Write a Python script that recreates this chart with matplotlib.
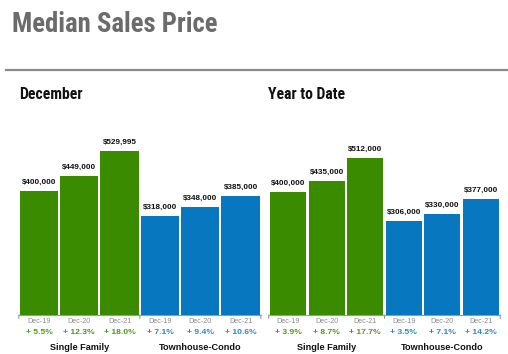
import matplotlib
matplotlib.use("Agg")
import matplotlib.pyplot as plt

narrow = ["Roboto Condensed", "Archivo Narrow", "Liberation Sans"]
sans = "Liberation Sans"

# ---- data ----
periods = ["Dec-19", "Dec-20", "Dec-21"]
groups = ["Single Family", "Townhouse-Condo"]
dec_single = [400000, 449000, 529995]
dec_condo = [318000, 348000, 385000]
dec_single_pct = ["+ 5.5%", "+ 12.3%", "+ 18.0%"]
dec_condo_pct = ["+ 7.1%", "+ 9.4%", "+ 10.6%"]
ytd_single = [400000, 435000, 512000]
ytd_condo = [306000, 330000, 377000]
ytd_single_pct = ["+ 3.9%", "+ 8.7%", "+ 17.7%"]
ytd_condo_pct = ["+ 3.5%", "+ 7.1%", "+ 14.2%"]

GREEN = "#3a8b00"
BLUE = "#0778bf"
GREEN_T = "#4d9a1c"
BLUE_T = "#238ad0"

W, H = 508, 354
fig = plt.figure(figsize=(W / 100, H / 100), dpi=100)

fig.text(12 / W, 1 - 32 / H, "Median Sales Price", fontsize=19.3, fontweight="bold",
         color="#6b6b6b", family=narrow, va="baseline", ha="left")
fig.add_artist(plt.Line2D([6 / W, 1.0], [1 - 69.5 / H] * 2, color="#8a8a8a", lw=1.6))
fig.text(19 / W, 1 - 99 / H, "December", fontsize=11.3, fontweight="bold",
         color="#111111", family=narrow, va="baseline", ha="left")
fig.text(268 / W, 1 - 99 / H, "Year to Date", fontsize=11.3, fontweight="bold",
         color="#111111", family=narrow, va="baseline", ha="left")


def panel(left_px, width_px, scale, bw, single, condo, spct, cpct):
    ymax = 600000
    h_px = ymax / 1000 * scale
    base = 315
    ax = fig.add_axes([left_px / W, (H - base) / H, width_px / W, h_px / H])
    ax.set_xlim(-0.5, 5.5)
    ax.set_ylim(0, ymax)
    ax.axis("off")
    vals = single + condo
    cols = [GREEN] * 3 + [BLUE] * 3
    pcts = spct + cpct
    pcols = [GREEN_T] * 3 + [BLUE_T] * 3
    labels = periods + periods
    xs = list(range(6))
    ax.plot([-0.5, 5.5], [0, 0], color="#9a9a9a", lw=0.8, clip_on=False, zorder=1)
    for tx in (-0.5, 2.5, 5.5):
        ax.annotate("", xy=(tx, 0), xytext=(0, -2.5), textcoords="offset points",
                    arrowprops=dict(arrowstyle="-", color="#9a9a9a", lw=0.8,
                                    shrinkA=0, shrinkB=0))
    ax.bar(xs, vals, width=bw, color=cols, zorder=2)
    for x, v, lab, p, pc in zip(xs, vals, labels, pcts, pcols):
        ax.annotate(f"${v:,.0f}", xy=(x, v), xytext=(0, 6.3), textcoords="offset points",
                    ha="center", va="center", fontsize=5.9, color="#111111", family=sans,
                    fontweight="bold", annotation_clip=False)
        ax.annotate(lab, xy=(x, 0), xytext=(0, -4.4), textcoords="offset points",
                    ha="center", va="center", fontsize=5.2, color="#8c8c8c", family=sans,
                    annotation_clip=False)
        ax.annotate(p, xy=(x, 0), xytext=(0, -12.4), textcoords="offset points",
                    ha="center", va="center", fontsize=6.1, color=pc, family=sans,
                    fontweight="bold", annotation_clip=False)
    for gx, g in zip((1, 4), groups):
        ax.annotate(g, xy=(gx, 0), xytext=(0, -23.2), textcoords="offset points",
                    ha="center", va="center", fontsize=6.6, color="#111111", family=sans,
                    fontweight="bold", annotation_clip=False)
    return ax


panel(18.8, 242, 0.31, 0.95, dec_single, dec_condo, dec_single_pct, dec_condo_pct)
panel(268.7, 231.6, 0.307, 0.93, ytd_single, ytd_condo, ytd_single_pct, ytd_condo_pct)

fig.savefig("out.png", dpi=100)
